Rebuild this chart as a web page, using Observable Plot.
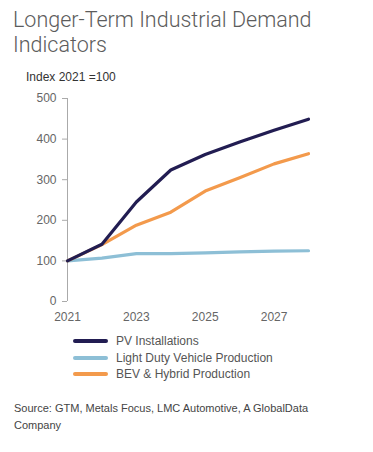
<!DOCTYPE html>
<html><head><meta charset="utf-8">
<script src="https://cdn.jsdelivr.net/npm/d3@7"></script>
<script src="https://cdn.jsdelivr.net/npm/@observablehq/plot@0.6"></script>
<style>
body{margin:0;background:#fff;font-family:"Liberation Sans",Arial,sans-serif;}
#wrap{position:relative;width:373px;height:452px;overflow:hidden;}
.t{position:absolute;white-space:nowrap;}
#title{left:13px;top:7px;font-family:Roboto,sans-serif;font-weight:300;font-size:21.5px;line-height:25px;color:#5c5c5c;}
#sub{left:26px;top:70px;font-size:12px;color:#333;}
#chart{position:absolute;left:0;top:0;}
.leg{position:absolute;left:73px;font-size:12px;color:#555;height:16px;line-height:16px;}
.leg span.sw{position:absolute;left:0;top:6px;width:35px;height:4px;border-radius:2px;}
.leg span.lb{position:absolute;left:43px;top:0;white-space:nowrap;}
#src{left:14px;top:400px;font-size:11px;line-height:17px;color:#444;}
</style></head>
<body><div id="wrap">
<div id="title" class="t">Longer-Term Industrial Demand<br>Indicators</div>
<div id="sub" class="t">Index 2021 =100</div>
<div id="chart"></div>
<div id="legend"></div>
<div id="src" class="t">Source: GTM, Metals Focus, LMC Automotive, A GlobalData<br>Company</div>
</div>
<script>
const years = [2021, 2022, 2023, 2024, 2025, 2026, 2027, 2028];
const pv = [100, 141, 245, 324, 362, 393, 422, 449];
const ldv = [100, 107, 118, 118, 120, 122, 124, 125];
const bev = [100, 140, 188, 220, 272, 305, 339, 364];
const seriesNames = ["PV Installations", "Light Duty Vehicle Production", "BEV & Hybrid Production"];
const seriesColors = ["#221d52", "#8dbfd6", "#f39a4c"];
const yTicks = [0, 100, 200, 300, 400, 500];
const xTicks = [2021, 2023, 2025, 2027];

const values = [pv, ldv, bev];
const data = [];
values.forEach((arr, i) => arr.forEach((v, j) => data.push({year: years[j], value: v, series: seriesNames[i]})));

const plot = Plot.plot({
  width: 373, height: 330,
  marginLeft: 67, marginRight: 65, marginTop: 98, marginBottom: 29,
  style: {fontFamily: '"Liberation Sans", Arial, sans-serif', fontSize: "12px", color: "#666", background: "transparent"},
  x: {domain: [2021, 2028], ticks: xTicks, tickFormat: d => String(d), label: null},
  y: {domain: [0, 500], ticks: yTicks, label: null},
  color: {domain: seriesNames, range: seriesColors},
  marks: [
    Plot.axisY({ticks: yTicks, tickSize: 5, tickPadding: 6, stroke: "#aaa", fill: "#666", fontSize: 12, label: null}),
    Plot.ruleX([2021], {stroke: "#aaa"}),
    Plot.axisX({ticks: xTicks, tickSize: 0, tickPadding: 11, fill: "#666", fontSize: 12, tickFormat: d => String(d), label: null}),
    Plot.line(data.filter(d => d.series === seriesNames[1]), {x: "year", y: "value", stroke: "series", strokeWidth: 3.2, curve: "linear"}),
    Plot.line(data.filter(d => d.series === seriesNames[2]), {x: "year", y: "value", stroke: "series", strokeWidth: 3.2, curve: "linear"}),
    Plot.line(data.filter(d => d.series === seriesNames[0]), {x: "year", y: "value", stroke: "series", strokeWidth: 3.2, curve: "linear"})
  ]
});
document.getElementById("chart").appendChild(plot);

const leg = document.getElementById("legend");
seriesNames.forEach((n, i) => {
  const d = document.createElement("div");
  d.className = "leg";
  d.style.top = (333 + i * 16.5) + "px";
  d.innerHTML = `<span class="sw" style="background:${seriesColors[i]}"></span><span class="lb">${n}</span>`;
  leg.appendChild(d);
});
</script>
</body></html>
